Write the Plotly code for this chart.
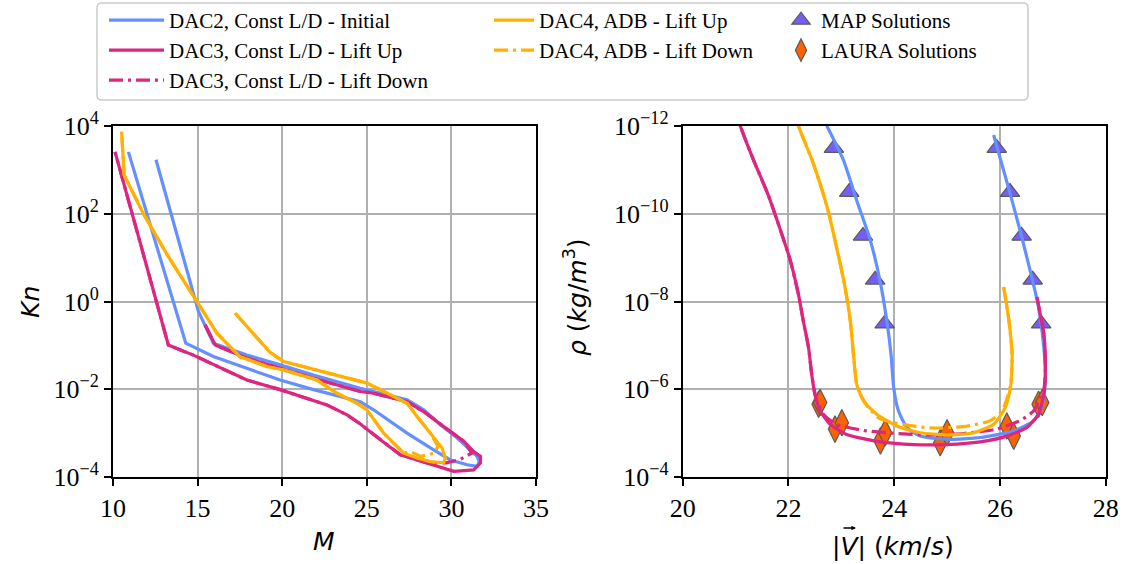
import plotly.graph_objects as go

# ---------------- data: left panel (Mach vs Knudsen) ----------------
dac2_M = [12.54, 15.05, 15.93, 17.91, 19.88, 21.85, 24.62, 25.40, 27.38, 28.36, 29.35, 30.33, 31.52, 31.65,
          31.52, 30.93, 29.94, 28.76, 27.38, 25.40, 24.62, 21.85, 19.88, 17.91, 15.93, 14.30, 12.19, 10.91]
dac2_Kn = [1700, 0.59, 0.112, 0.060, 0.036, 0.021, 0.0105, 0.0089, 0.0058, 0.0034, 0.00155, 7.8e-4, 2.95e-4, 2.24e-4,
           1.74e-4, 1.9e-4, 2.45e-4, 4.6e-4, 1.0e-3, 3.4e-3, 5.2e-3, 9.8e-3, 0.0162, 0.030, 0.056, 0.112, 55, 2570]

dac3u_M = [15.44, 16.04, 17.91, 19.88, 21.85, 24.62, 25.40, 27.38, 28.36, 29.54, 30.73, 31.32, 31.72, 31.72,
           31.32, 30.14, 28.56, 26.98, 25.80, 24.62, 23.83, 22.64, 19.88, 17.91, 14.75, 13.27, 11.70, 10.12]
dac3u_Kn = [0.295, 0.102, 0.051, 0.030, 0.0178, 0.0089, 0.0081, 0.0052, 0.0031, 0.00141, 6.5e-4, 3.8e-4, 2.95e-4, 2.1e-4,
            1.45e-4, 1.35e-4, 2.1e-4, 3.2e-4, 7.1e-4, 1.62e-3, 2.6e-3, 4.4e-3, 9.8e-3, 0.0162, 0.060, 0.102, 16.2, 2570]

dac3d_M = [15.44, 16.04, 17.91, 19.88, 21.85, 24.62, 25.40, 27.38, 28.36, 29.54, 30.73, 31.20, 30.50, 29.70,
           28.56, 26.98, 25.80, 24.62, 23.83, 22.64, 19.88, 17.91, 14.75, 13.27, 11.70, 10.12]
dac3d_Kn = [0.295, 0.102, 0.051, 0.030, 0.0178, 0.0089, 0.0081, 0.0052, 0.0031, 0.00141, 6.5e-4, 3.5e-4, 2.5e-4, 2.1e-4,
            2.1e-4, 3.2e-4, 7.1e-4, 1.62e-3, 2.6e-3, 4.4e-3, 9.8e-3, 0.0162, 0.060, 0.102, 16.2, 2570]

dac4u_M = [17.22, 19.29, 20.08, 22.05, 24.02, 25.01, 26.00, 27.38, 27.97, 28.76, 29.45, 29.64, 29.54, 28.76, 27.97,
           27.18, 26.00, 25.01, 24.42, 23.24, 22.05, 20.08, 19.09, 17.51, 16.14, 15.15, 13.18, 11.79, 10.66, 10.51]
dac4u_Kn = [0.54, 0.069, 0.043, 0.0275, 0.0178, 0.0138, 0.0089, 0.0048, 0.0024, 0.0010, 4.6e-4, 2.7e-4, 2.1e-4, 2.24e-4, 2.7e-4,
            3.5e-4, 1.0e-3, 3.4e-3, 4.8e-3, 8.1e-3, 0.0162, 0.0275, 0.033, 0.055, 0.19, 0.76, 12, 102, 760, 7400]

dac4d_M = [17.22, 19.29, 20.08, 22.05, 24.02, 25.01, 26.00, 27.38, 27.97, 28.76, 29.20, 29.00, 28.20, 27.57, 27.18,
           26.00, 25.01, 24.42, 23.24, 22.05, 20.08, 19.09, 17.51, 16.14, 15.15, 13.18, 11.79, 10.66, 10.51]
dac4d_Kn = [0.54, 0.069, 0.043, 0.0275, 0.0178, 0.0138, 0.0089, 0.0048, 0.0024, 0.0010, 5.0e-4, 3.5e-4, 2.95e-4, 3.8e-4, 3.5e-4,
            1.0e-3, 3.4e-3, 4.8e-3, 8.1e-3, 0.0162, 0.0275, 0.033, 0.055, 0.19, 0.76, 12, 102, 760, 7400]

# ---------------- data: right panel (velocity vs density) ----------------
dac2_V = [25.88, 26.16, 26.38, 26.57, 26.73, 26.83, 26.86, 26.79, 26.64, 26.26, 25.63, 25.00, 24.49, 24.24,
          24.08, 23.99, 23.94, 23.86, 23.73, 23.55, 23.29, 23.04, 22.73, 22.66]
dac2_rho = [1.6e-12, 2.5e-11, 2.4e-10, 1.95e-9, 1.35e-8, 1.12e-7, 6.5e-7, 2.6e-6, 5.2e-6, 8.9e-6, 1.26e-5, 1.38e-5,
            1.17e-5, 7.4e-6, 3.1e-6, 9.1e-7, 1.6e-7, 2.75e-8, 3.3e-9, 4.1e-10, 4.9e-11, 6.0e-12, 1.0e-12, 6.3e-13]

dac3u_V = [26.70, 26.76, 26.83, 26.86, 26.83, 26.73, 26.51, 26.13, 25.63, 25.00, 24.37, 23.74, 23.10, 22.79,
           22.60, 22.50, 22.44, 22.38, 22.28, 22.19, 22.03, 21.84, 21.62, 21.34, 21.09, 21.02]
dac3u_rho = [7.9e-9, 1.9e-8, 5.5e-8, 3.2e-7, 1.29e-6, 3.7e-6, 7.4e-6, 1.17e-5, 1.58e-5, 1.82e-5, 1.82e-5, 1.58e-5,
             1.07e-5, 6.3e-6, 3.1e-6, 1.29e-6, 4.6e-7, 1.12e-7, 2.75e-8, 7.0e-9, 1.1e-9, 2.2e-10, 3.8e-11,
             6.0e-12, 1.0e-12, 5.1e-13]

dac3d_V = [26.70, 26.76, 26.83, 26.86, 26.83, 26.76, 26.64, 26.38, 25.94, 25.31, 24.68, 24.05, 23.42, 22.91,
           22.66, 22.52, 22.44, 22.38, 22.28, 22.19, 22.03, 21.84, 21.62, 21.34, 21.09, 21.02]
dac3d_rho = [7.9e-9, 1.9e-8, 5.5e-8, 3.2e-7, 1.0e-6, 1.55e-6, 3.1e-6, 5.2e-6, 8.1e-6, 1.02e-5, 1.1e-5, 1.02e-5,
             8.7e-6, 6.3e-6, 3.7e-6, 1.6e-6, 4.6e-7, 1.12e-7, 2.75e-8, 7.0e-9, 1.1e-9, 2.2e-10, 3.8e-11,
             6.0e-12, 1.0e-12, 5.1e-13]

dac4u_V = [26.07, 26.17, 26.23, 26.20, 26.10, 25.88, 25.50, 25.00, 24.49, 24.05, 23.67, 23.42, 23.29, 23.23,
           23.17, 23.07, 22.91, 22.73, 22.47, 22.19, 22.13]
dac4u_rho = [4.7e-9, 2.75e-8, 1.6e-7, 9.1e-7, 2.6e-6, 6.3e-6, 9.8e-6, 1.1e-5, 9.8e-6, 6.9e-6, 3.7e-6, 1.86e-6,
             7.6e-7, 1.6e-7, 2.75e-8, 4.7e-9, 5.8e-10, 6.9e-11, 7.1e-12, 1.0e-12, 5.1e-13]

dac4d_V = [26.07, 26.17, 26.23, 26.21, 26.16, 26.04, 25.82, 25.31, 24.68, 24.05, 23.73, 23.50, 23.35, 23.29,
           23.23, 23.17, 23.07, 22.91, 22.73, 22.47, 22.19, 22.13]
dac4d_rho = [4.7e-9, 2.75e-8, 1.6e-7, 7.0e-7, 1.29e-6, 3.1e-6, 5.2e-6, 7.1e-6, 7.6e-6, 6.0e-6, 4.7e-6, 2.5e-6,
             1.2e-6, 7.6e-7, 1.6e-7, 2.75e-8, 4.7e-9, 5.8e-10, 6.9e-11, 7.1e-12, 1.0e-12, 5.1e-13]

map_V = [22.86, 23.15, 23.41, 23.64, 23.82, 25.94, 26.19, 26.41, 26.62, 26.78]
map_rho = [3.2e-12, 3.2e-11, 3.2e-10, 3.2e-9, 3.2e-8, 3.2e-12, 3.2e-11, 3.2e-10, 3.2e-9, 3.2e-8]

laura_V = [22.57, 22.60, 22.88, 23.01, 23.74, 23.83, 24.87, 25.00, 26.13, 26.26, 26.73, 26.80]
laura_rho = [2.2e-6, 2.0e-6, 8.1e-6, 5.8e-6, 1.5e-5, 9.8e-6, 1.66e-5, 9.8e-6, 6.9e-6, 1.17e-5, 2.2e-6, 2.0e-6]

# ticks
left_xticks = [10, 15, 20, 25, 30, 35]
left_yticks = [1e-4, 1e-2, 1, 1e2, 1e4]
left_ytext = ["10<sup>\u22124</sup>", "10<sup>\u22122</sup>", "10<sup>0</sup>", "10<sup>2</sup>", "10<sup>4</sup>"]
right_xticks = [20, 22, 24, 26, 28]
right_yticks = [1e-12, 1e-10, 1e-8, 1e-6, 1e-4]
right_ytext = ["10<sup>\u221212</sup>", "10<sup>\u221210</sup>", "10<sup>\u22128</sup>", "10<sup>\u22126</sup>",
               "10<sup>\u22124</sup>"]

# ---------------- style ----------------
BLUE, MAG, YEL, PURP, ORNG = "#648FFF", "#DC267F", "#FFB000", "#785EF0", "#FE6100"
LW = 3.2
DASHDOT = "14px,5px,3px,5px"
SERIF = "Liberation Serif"
SANS = "DejaVu Sans"
W, H = 1123, 564

fig = go.Figure()

# markers first (beneath lines, as in the reference)
fig.add_trace(go.Scatter(x=map_V, y=map_rho, mode="markers", name="MAP Solutions", xaxis="x2", yaxis="y2",
                         marker=dict(symbol="triangle-up", size=17, color=PURP, line=dict(color="#5a5a5a", width=1.2)),
                         legend="legend6"))
fig.add_trace(go.Scatter(x=laura_V, y=laura_rho, mode="markers", name="LAURA Solutions", xaxis="x2", yaxis="y2",
                         marker=dict(symbol="diamond-tall", size=19, color=ORNG, line=dict(color="#5a5a5a", width=1.2)),
                         legend="legend7"))

series = [
    ("DAC2, Const L/D - Initial", BLUE, "solid", dac2_M, dac2_Kn, dac2_V, dac2_rho, "legend"),
    ("DAC3, Const L/D - Lift Up", MAG, "solid", dac3u_M, dac3u_Kn, dac3u_V, dac3u_rho, "legend2"),
    ("DAC3, Const L/D - Lift Down", MAG, DASHDOT, dac3d_M, dac3d_Kn, dac3d_V, dac3d_rho, "legend3"),
    ("DAC4, ADB - Lift Up", YEL, "solid", dac4u_M, dac4u_Kn, dac4u_V, dac4u_rho, "legend4"),
    ("DAC4, ADB - Lift Down", YEL, DASHDOT, dac4d_M, dac4d_Kn, dac4d_V, dac4d_rho, "legend5"),
]
for name, col, dash, mx, ky, vx, ry, leg in series:
    fig.add_trace(go.Scatter(x=mx, y=ky, mode="lines", name=name, legend=leg, legendgroup=name,
                             line=dict(color=col, width=LW, dash=dash), xaxis="x", yaxis="y"))
    fig.add_trace(go.Scatter(x=vx, y=ry, mode="lines", name=name, legendgroup=name, showlegend=False,
                             line=dict(color=col, width=LW, dash=dash, shape="spline", smoothing=0.6),
                             xaxis="x2", yaxis="y2"))

ax_common = dict(showline=True, linecolor="black", linewidth=2, mirror=True, ticks="outside", ticklen=7,
                 tickwidth=2, tickcolor="black", showgrid=True, gridcolor="#b0b0b0", gridwidth=2,
                 zeroline=False, tickfont=dict(family=SERIF, size=26, color="black"), automargin=False)

ydom = [1 - 477 / H, 1 - 126 / H]
lfont = dict(family=SERIF, size=21, color="black")


def leg(xpx, row, iw):
    return dict(x=xpx / W, y=1 - (row * 30) / H, xanchor="left", yanchor="top", bgcolor="rgba(0,0,0,0)",
                itemwidth=iw, font=lfont)


fig.update_layout(
    width=W, height=H, margin=dict(l=0, r=0, t=0, b=0),
    paper_bgcolor="white", plot_bgcolor="white",
    xaxis=dict(domain=[113 / W, 536 / W], anchor="y", range=[10, 35], tickvals=left_xticks, **ax_common),
    yaxis=dict(domain=ydom, anchor="x", type="log", range=[-4, 4], tickvals=left_yticks, ticktext=left_ytext,
               **ax_common),
    xaxis2=dict(domain=[682.7 / W, 1105.7 / W], anchor="y2", range=[20, 28], tickvals=right_xticks, **ax_common),
    yaxis2=dict(domain=ydom, anchor="x2", type="log", range=[-4, -12], tickvals=right_yticks, ticktext=right_ytext,
                **ax_common),
    legend=leg(104, 0, 55), legend2=leg(104, 1, 55), legend3=leg(104, 2, 55),
    legend4=leg(489, 0, 40), legend5=leg(489, 1, 40),
    legend6=leg(781, 0, 30), legend7=leg(781, 1, 30),
    showlegend=True,
)

# legend frame (rounded)
x0, x1, y0, y1 = 97 / W, 1028 / W, 1 - 100 / H, 1 - 3 / H
rx, ry = 5 / W, 5 / H
path = (f"M {x0+rx},{y1} L {x1-rx},{y1} Q {x1},{y1} {x1},{y1-ry} L {x1},{y0+ry} Q {x1},{y0} {x1-rx},{y0} "
        f"L {x0+rx},{y0} Q {x0},{y0} {x0},{y0+ry} L {x0},{y1-ry} Q {x0},{y1} {x0+rx},{y1} Z")
fig.add_shape(type="path", path=path, xref="paper", yref="paper", line=dict(color="#cccccc", width=1.5),
              fillcolor="rgba(255,255,255,0.8)", layer="below")

# axis titles
tfont = dict(family=SANS, size=25, color="black")
fig.add_annotation(text="<i>M</i>", x=324 / W, y=1 - 541 / H, xref="paper", yref="paper", showarrow=False,
                   font=tfont, xanchor="center", yanchor="middle")
fig.add_annotation(text="<i>Kn</i>", x=30 / W, y=1 - 302 / H, xref="paper", yref="paper", showarrow=False,
                   font=tfont, textangle=-90, xanchor="center", yanchor="middle")
fig.add_annotation(text="<i>\u03c1</i> (<i>kg</i>/<i>m</i><sup>3</sup>)", x=575 / W, y=1 - 297 / H, xref="paper",
                   yref="paper", showarrow=False, font=tfont, textangle=-90, xanchor="center", yanchor="middle")
fig.add_annotation(text="|<i>V</i>| (<i>km</i>/<i>s</i>)", x=893 / W, y=1 - 546 / H, xref="paper",
                   yref="paper", showarrow=False, font=tfont, xanchor="center", yanchor="middle")
# vector arrow over V (drawn as an arrow, not text)
fig.add_annotation(text="", x=856 / W, y=1 - 528 / H, xref="paper", yref="paper", showarrow=True,
                   ax=-14, ay=0, axref="pixel", ayref="pixel", arrowhead=2, arrowsize=0.7, arrowwidth=1.3,
                   arrowcolor="black", standoff=0, startstandoff=0)

fig.write_html("out.html")
